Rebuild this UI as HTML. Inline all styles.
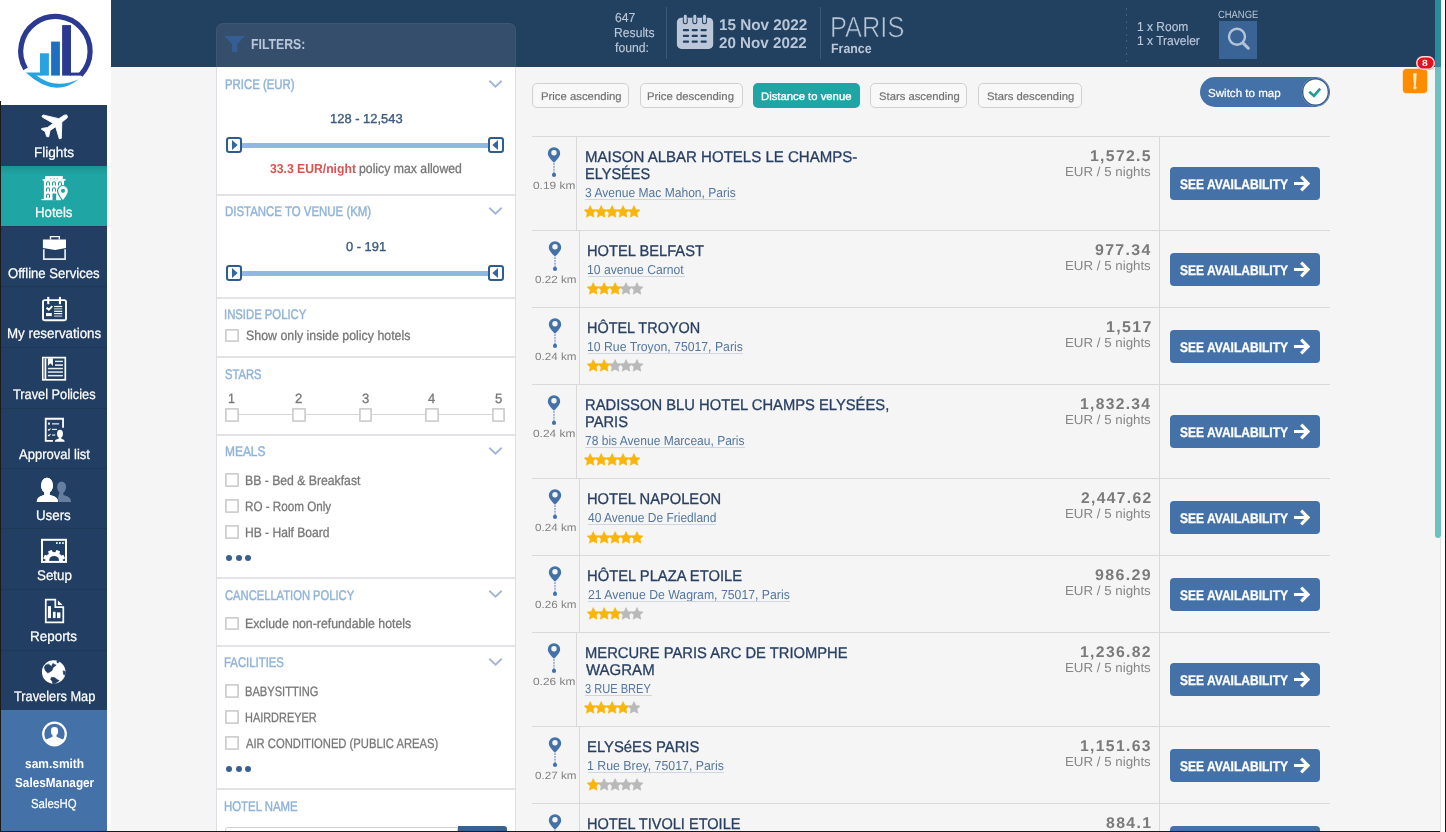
<!DOCTYPE html>
<html><head><meta charset="utf-8"><title>Hotels</title>
<style>
html,body{margin:0;padding:0;overflow:hidden;background:#f5f5f5;}
body{width:1446px;height:832px;}
#root{will-change:opacity;width:1446px;height:832px;overflow:hidden;position:relative;font-family:"Liberation Sans",sans-serif;}
.b{position:absolute;display:block;}
.t{position:absolute;white-space:nowrap;line-height:1;transform-origin:0 0;text-rendering:geometricPrecision;}
</style></head><body><div id="root">
<div class="b" style="left:111px;top:0px;width:1335px;height:67px;background:#22405f;"></div>
<div class="b" style="left:0px;top:0px;width:111px;height:105px;background:#ffffff;"></div>
<div class="b" style="left:107px;top:105px;width:4px;height:727px;background:#ffffff;"></div>
<div class="b" style="left:1px;top:105px;width:106px;height:605px;background:#223f63;"></div>
<div class="b" style="left:1px;top:710px;width:106px;height:121px;background:#4472a8;"></div>
<svg class="b" style="left:0px;top:0px;" width="111" height="105" viewBox="0 0 111 105">
<path d="M25.6 68.9 A34.7 34.7 0 1 1 80.6 75" fill="none" stroke="#2b3990" stroke-width="5.2"/>
<rect x="62.1" y="25.1" width="8.9" height="50.5" fill="#2b3990"/>
<rect x="70" y="72.6" width="11.8" height="3" fill="#2b3990"/>
<rect x="51.1" y="41.6" width="8.8" height="34" fill="#1f6fc0"/>
<rect x="40" y="53.3" width="8.9" height="22.3" fill="#27a3e2"/>
<path d="M25.8 72.6 H40.5 V75.6 H36.5 Q55 90 78.8 79.2 Q54 99 25.8 72.6Z" fill="#27a3e2"/>
</svg>
<div class="t" style="left:33.61px;top:145.00px;font-size:14px;color:#ffffff;transform:scaleX(0.9691);-webkit-text-stroke:0.25px #ffffff;">Flights</div>
<div class="b" style="left:1px;top:166px;width:106px;height:61px;background:#1fa5a3;background:linear-gradient(to bottom,#1b9392 0,#1fa5a3 9px);"></div>
<div class="t" style="left:35.14px;top:205.00px;font-size:14px;color:#ffffff;transform:scaleX(0.9443);-webkit-text-stroke:0.25px #ffffff;">Hotels</div>
<div class="b" style="left:1px;top:226px;width:106px;height:1px;background:#1e3858;"></div>
<div class="t" style="left:8.31px;top:266.00px;font-size:14px;color:#ffffff;transform:scaleX(0.9366);-webkit-text-stroke:0.25px #ffffff;">Offline Services</div>
<div class="b" style="left:1px;top:286px;width:106px;height:1px;background:#1e3858;"></div>
<div class="t" style="left:6.73px;top:326.00px;font-size:14px;color:#ffffff;transform:scaleX(0.9532);-webkit-text-stroke:0.25px #ffffff;">My reservations</div>
<div class="b" style="left:1px;top:347px;width:106px;height:1px;background:#1e3858;"></div>
<div class="t" style="left:13.07px;top:387.00px;font-size:14px;color:#ffffff;transform:scaleX(0.9125);-webkit-text-stroke:0.25px #ffffff;">Travel Policies</div>
<div class="b" style="left:1px;top:408px;width:106px;height:1px;background:#1e3858;"></div>
<div class="t" style="left:18.50px;top:447.00px;font-size:14px;color:#ffffff;transform:scaleX(0.9298);-webkit-text-stroke:0.25px #ffffff;">Approval list</div>
<div class="b" style="left:1px;top:468px;width:106px;height:1px;background:#1e3858;"></div>
<div class="t" style="left:36.45px;top:508.00px;font-size:14px;color:#ffffff;transform:scaleX(0.9514);-webkit-text-stroke:0.25px #ffffff;">Users</div>
<div class="b" style="left:1px;top:528px;width:106px;height:1px;background:#1e3858;"></div>
<div class="t" style="left:36.80px;top:568.00px;font-size:14px;color:#ffffff;transform:scaleX(0.9555);-webkit-text-stroke:0.25px #ffffff;">Setup</div>
<div class="b" style="left:1px;top:589px;width:106px;height:1px;background:#1e3858;"></div>
<div class="t" style="left:30.12px;top:629.00px;font-size:14px;color:#ffffff;transform:scaleX(0.9604);-webkit-text-stroke:0.25px #ffffff;">Reports</div>
<div class="b" style="left:1px;top:650px;width:106px;height:1px;background:#1e3858;"></div>
<div class="t" style="left:13.77px;top:689.00px;font-size:14px;color:#ffffff;transform:scaleX(0.9135);-webkit-text-stroke:0.25px #ffffff;">Travelers Map</div>
<div class="t" style="left:24.84px;top:757.00px;font-size:13px;color:#ffffff;transform:scaleX(0.9190);font-weight:bold;">sam.smith</div>
<div class="t" style="left:14.56px;top:776.00px;font-size:13px;color:#ffffff;transform:scaleX(0.9059);font-weight:bold;">SalesManager</div>
<div class="t" style="left:31.25px;top:797.00px;font-size:13px;color:#ffffff;transform:scaleX(0.8788);-webkit-text-stroke:0.2px #ffffff;">SalesHQ</div>
<svg class="b" style="left:34px;top:108px;" width="40" height="35" viewBox="0 0 40 35"><path d="M30.3 7.2L32.300 6.900Q33.800 7.200 33.300 9.700L27.800 14.200L27.300 30.300L25.300 30.800L21.700 18.700L16 22.500L14.700 28.800L12.700 28.600L11 23.400L7.500 21.300L7.700 20.500L13.500 19.500L19.300 15.400L8.300 9.100L8.100 7.900L9.200 7L24.800 10.700Z" fill="#fff" stroke="#fff" stroke-width="0.900" stroke-linejoin="round"/></svg>
<svg class="b" style="left:34px;top:170px;" width="40" height="35" viewBox="0 0 40 35"><g fill="#fff"><rect x="11.100" y="6.100" width="17.700" height="3.200"/><rect x="8.600" y="9" width="22.900" height="1.800"/>
<rect x="9.900" y="10.500" width="20.200" height="18.800"/><rect x="7.400" y="28.900" width="19.600" height="1.300"/></g>
<g fill="#27a09e"><rect x="16.300" y="8.300" width="1.100" height="0.900"/><rect x="19.600" y="8.300" width="1.100" height="0.900"/><rect x="22.600" y="8.300" width="1.100" height="0.900"/>
<rect x="18.500" y="23.500" width="3.700" height="6.800"/></g>
<path d="M12.5 15.5v-2.300a1.500 1.500 0 0 1 3 0v2.300" fill="none" stroke="#1f9c9a" stroke-width="1.050"/><path d="M18.5 15.5v-2.300a1.500 1.500 0 0 1 3 0v2.300" fill="none" stroke="#1f9c9a" stroke-width="1.050"/><path d="M24.5 15.5v-2.300a1.500 1.500 0 0 1 3 0v2.300" fill="none" stroke="#1f9c9a" stroke-width="1.050"/><path d="M12.5 21.6v-2.300a1.500 1.500 0 0 1 3 0v2.300" fill="none" stroke="#1f9c9a" stroke-width="1.050"/><path d="M18.5 21.6v-2.300a1.500 1.500 0 0 1 3 0v2.300" fill="none" stroke="#1f9c9a" stroke-width="1.050"/><path d="M12.5 27.8v-2.300a1.500 1.500 0 0 1 3 0v2.300" fill="none" stroke="#1f9c9a" stroke-width="1.050"/>
<path d="M29 14.900a6.100 6.100 0 0 1 6.100 6.100c0 4-6.100 10.600-6.100 10.600s-6.100-6.600-6.100-10.600a6.100 6.100 0 0 1 6.100-6.100z" fill="#1fa5a3"/>
<rect x="30.100" y="10.800" width="2" height="4.500" fill="#1fa5a3"/>
<path d="M29 16.100a4.800 4.800 0 0 1 4.800 4.800c0 3.200-4.800 9-4.800 9s-4.800-5.800-4.800-9a4.800 4.800 0 0 1 4.800-4.800z" fill="#fff"/>
<circle cx="29" cy="20.800" r="2.100" fill="#1fa5a3"/></svg>
<svg class="b" style="left:36px;top:232px;" width="36" height="32" viewBox="0 0 36 32"><path d="M14.500 7.500V4.600h8.800v2.900" fill="none" stroke="#fff" stroke-width="1.400"/>
<path d="M6.900 7.400h23.100v8.600l-10.800 2.100l-12.300-2.100z" fill="#fff"/>
<path d="M7.800 17.300v9.800h21.300v-9.800" fill="none" stroke="#e6ebf2" stroke-width="1.700"/></svg>
<svg class="b" style="left:36px;top:293px;" width="36" height="32" viewBox="0 0 36 32"><rect x="7" y="7.100" width="23" height="20.200" rx="1.800" fill="none" stroke="#fff" stroke-width="1.900"/>
<rect x="11.200" y="3.900" width="2.100" height="7.300" fill="#fff"/><rect x="22.900" y="3.900" width="2.100" height="7.300" fill="#fff"/>
<path d="M10.500 14.700l2.300 1.900 3.500-3.500" fill="none" stroke="#fff" stroke-width="1.900"/>
<rect x="10" y="20" width="5.800" height="3.100" fill="#fff"/>
<g fill="#fff"><rect x="18.100" y="12.900" width="8.100" height="1.200"/><rect x="18.100" y="15.200" width="8.100" height="1.200" opacity=".7"/><rect x="18.100" y="17.700" width="8.100" height="1.200"/>
<rect x="18.100" y="20" width="8.100" height="1.200"/><rect x="18.100" y="22.500" width="8.100" height="1.200" opacity=".7"/></g></svg>
<svg class="b" style="left:36px;top:352px;" width="36" height="32" viewBox="0 0 36 32"><rect x="6.800" y="5.600" width="22.500" height="22.200" fill="none" stroke="#fff" stroke-width="1.700"/>
<rect x="7.400" y="6.300" width="1.500" height="20.800" fill="#8a98ab"/><rect x="8.900" y="6.300" width="1.400" height="20.800" fill="#fff"/>
<path d="M11.900 6.300h5v7.600l-2.500-2.700-2.500 2.700z" fill="#fff"/>
<g fill="#e8edf3"><rect x="19" y="8.700" width="7.900" height="1.400"/><rect x="19" y="12.300" width="7.900" height="1.600"/>
<rect x="11.900" y="15.800" width="15" height="1.500"/><rect x="11.900" y="19.300" width="15" height="1.500"/><rect x="11.900" y="22.900" width="15" height="1.500"/></g></svg>
<svg class="b" style="left:36px;top:413px;" width="36" height="32" viewBox="0 0 36 32"><path d="M27.050 14.800V5.750H9.700v22.050h7.200" fill="none" stroke="#fff" stroke-width="1.800"/>
<rect x="12.100" y="9.600" width="1.800" height="2.100" fill="#fff"/>
<path d="M12 16.500l.900.800 1.600-1.800M12 22l.900.800 1.600-1.800" fill="none" stroke="#fff" stroke-width="1.100"/>
<g fill="#dfe7f1"><rect x="16" y="10.200" width="7.100" height="1.300"/><rect x="16" y="15.800" width="5" height="1.200"/><rect x="16.200" y="21.400" width="3" height="1.300"/></g>
<ellipse cx="24" cy="20.700" rx="2.950" ry="3.850" fill="#fff"/>
<path d="M22.700 23.500h2.600v2.300c2 .500 3.300 1.200 3.400 2.900h-9.900c.100-1.700 1.400-2.400 3.900-2.900z" fill="#fff"/></svg>
<svg class="b" style="left:32px;top:474px;" width="44" height="32" viewBox="0 0 44 32"><g fill="#667f9e"><ellipse cx="29.600" cy="13.100" rx="4.500" ry="5.700"/><path d="M27.800 17.500h3.600v3.600c4.500 1.200 7.300 2.300 7.700 6.800h-14.500z"/></g>
<g fill="#fff" stroke="#223f63" stroke-width="1.600" paint-order="stroke"><ellipse cx="15" cy="11.500" rx="6" ry="7.700"/><path d="M12.300 17.500h5.400v3.500c5 1.500 8 2.200 8.300 6.900h-21.200c.300-4.700 3-5.400 7.500-6.900z"/></g>
<g fill="#fff"><ellipse cx="15" cy="11.500" rx="6" ry="7.700"/><path d="M12.300 17.500h5.400v3.500c5 1.500 8 2.200 8.300 6.900h-21.200c.300-4.700 3-5.400 7.500-6.900z"/></g></svg>
<svg class="b" style="left:36px;top:534px;" width="36" height="32" viewBox="0 0 36 32"><defs><clipPath id="sc"><rect x="6" y="6" width="24" height="21.900"/></clipPath></defs>
<g clip-path="url(#sc)" fill="#fff"><circle cx="18.100" cy="26.900" r="8.900"/><rect x="16" y="15.800" width="4.200" height="5" rx="1" transform="rotate(-112.5 18.100 26.900)"/><rect x="16" y="15.800" width="4.200" height="5" rx="1" transform="rotate(-67.5 18.100 26.900)"/><rect x="16" y="15.800" width="4.200" height="5" rx="1" transform="rotate(-22.5 18.100 26.900)"/><rect x="16" y="15.800" width="4.200" height="5" rx="1" transform="rotate(22.5 18.100 26.900)"/><rect x="16" y="15.800" width="4.200" height="5" rx="1" transform="rotate(67.5 18.100 26.900)"/><rect x="16" y="15.800" width="4.200" height="5" rx="1" transform="rotate(112.5 18.100 26.900)"/></g>
<circle cx="18.100" cy="26.900" r="5" fill="#223f63"/>
<rect x="6" y="5.800" width="24" height="22.100" fill="none" stroke="#fff" stroke-width="2"/>
<g fill="#e6ecf4"><rect x="20" y="8.100" width="1.700" height="1.900"/><rect x="23" y="8.100" width="1.700" height="1.900"/><rect x="26.100" y="8.100" width="1.700" height="1.900"/></g></svg>
<svg class="b" style="left:36px;top:595px;" width="36" height="32" viewBox="0 0 36 32"><path d="M19.300 4.700H9.750v22.600h17.550V12.200h-8z" fill="none" stroke="#fff" stroke-width="1.700"/>
<path d="M21.900 5.600v4.500h4.700z" fill="#fff"/>
<rect x="11.900" y="11.100" width="3.100" height="12" fill="#fff"/><rect x="16.900" y="16.800" width="2.700" height="6.300" fill="#fff"/><rect x="21" y="17.400" width="3.400" height="5.700" fill="#fff"/></svg>
<svg class="b" style="left:36px;top:656px;" width="36" height="32" viewBox="0 0 36 32"><circle cx="17.700" cy="16" r="11.800" fill="#fff"/>
<g fill="#223f63" stroke="#223f63" stroke-width="0.600" stroke-linejoin="round"><path d="M12.69 8.27L15.38 10.38L16.92 7.50L20.19 9.23L17.31 11.15L15.96 14.62L11.92 17.12L9.42 14.81L8.27 11.15L9.81 8.85Z"/><path d="M15.38 21.35L18.46 21.54L21.54 23.85L23.27 24.62L20.00 27.12L16.92 27.88L16.15 25.00L14.62 23.46Z"/><path d="M27.12 14.81L29.23 15.38L29.23 18.85L27.50 18.46Z"/><circle cx="21.900" cy="5.800" r="1.100"/></g>
<path d="M9.500 8.500L16.500 5.200L12.500 8z" fill="#b8c4d4"/></svg>
<svg class="b" style="left:36px;top:717px;" width="36" height="32" viewBox="0 0 36 32"><defs><clipPath id="av"><circle cx="18.500" cy="17" r="11.200"/></clipPath></defs>
<circle cx="18.500" cy="17" r="11.300" fill="none" stroke="#fff" stroke-width="2.200"/>
<g clip-path="url(#av)" fill="#fff"><rect x="15" y="10.100" width="7" height="8.300" rx="3.300"/>
<path d="M16.500 17.500h4v2.300l7.500 3.200v7h-19v-7l7.500-3.200z"/></g></svg>
<div class="t" style="left:615.21px;top:11.00px;font-size:13px;color:#bac7d9;transform:scaleX(0.9366);-webkit-text-stroke:0.15px #bac7d9;">647</div>
<div class="t" style="left:614.06px;top:26.00px;font-size:13px;color:#bac7d9;transform:scaleX(0.9361);-webkit-text-stroke:0.15px #bac7d9;">Results</div>
<div class="t" style="left:614.88px;top:41.00px;font-size:13px;color:#bac7d9;transform:scaleX(0.9405);-webkit-text-stroke:0.15px #bac7d9;">found:</div>
<div class="b" style="left:666px;top:7px;width:1px;height:52px;background:#3d5877;"></div>
<svg class="b" style="left:670px;top:8px;" width="50" height="48" viewBox="0 0 50 48"><rect x="6.900" y="9.800" width="36.300" height="31.100" rx="4.500" fill="#bcc8d9"/>
<g fill="#22405f"><rect x="12.8" y="21" width="6.300" height="2.300" rx="1"/><rect x="21.6" y="21" width="6.300" height="2.300" rx="1"/><rect x="30.5" y="21" width="6.300" height="2.300" rx="1"/><rect x="12.8" y="26.8" width="6.300" height="2.300" rx="1"/><rect x="21.6" y="26.8" width="6.300" height="2.300" rx="1"/><rect x="30.5" y="26.8" width="6.300" height="2.300" rx="1"/><rect x="12.8" y="32.5" width="6.300" height="2.300" rx="1"/><rect x="21.6" y="32.5" width="6.300" height="2.300" rx="1"/><rect x="30.5" y="32.5" width="6.300" height="2.300" rx="1"/><rect x="12.8" y="9" width="5" height="7.300" rx="2.400"/><rect x="22.3" y="9" width="5" height="7.300" rx="2.400"/><rect x="32.0" y="9" width="5" height="7.300" rx="2.400"/></g><g fill="#bcc8d9"><rect x="13.850000000000001" y="6.800" width="2.900" height="8.500" rx="1.450"/><rect x="23.35" y="6.800" width="2.900" height="8.500" rx="1.450"/><rect x="33.05" y="6.800" width="2.900" height="8.500" rx="1.450"/></g></svg>
<div class="t" style="left:718.51px;top:18.00px;font-size:15.5px;color:#bac7d9;transform:scaleX(0.9852);font-weight:bold;">15 Nov 2022</div>
<div class="t" style="left:719.01px;top:36.00px;font-size:15.5px;color:#bac7d9;transform:scaleX(0.9797);font-weight:bold;">20 Nov 2022</div>
<div class="b" style="left:820px;top:7px;width:1px;height:52px;background:#3d5877;"></div>
<div class="t" style="left:829.82px;top:14.00px;font-size:29px;color:#b4c2d4;transform:scaleX(0.8764);-webkit-text-stroke:0.6px #b4c2d4;-webkit-text-stroke-color:#22405f;">PARIS</div>
<div class="t" style="left:830.70px;top:42.00px;font-size:13.5px;color:#bac7d9;transform:scaleX(0.9186);font-weight:bold;">France</div>
<div class="b" style="left:1126px;top:8px;width:1px;height:56px;background:repeating-linear-gradient(to bottom,#465f7f 0,#465f7f 2px,transparent 2px,transparent 6.500px);"></div>
<div class="t" style="left:1136.68px;top:20.00px;font-size:13px;color:#bac7d9;transform:scaleX(0.9228);-webkit-text-stroke:0.15px #bac7d9;">1 x Room</div>
<div class="t" style="left:1136.67px;top:34.00px;font-size:13px;color:#bac7d9;transform:scaleX(0.9258);-webkit-text-stroke:0.15px #bac7d9;">1 x Traveler</div>
<div class="t" style="left:1218.15px;top:10.00px;font-size:10.5px;color:#bac7d9;transform:scaleX(0.8955);">CHANGE</div>
<div class="b" style="left:1219px;top:21px;width:38px;height:38px;background:#3a6496;"></div>
<svg class="b" style="left:1219px;top:21px;" width="38" height="38" viewBox="0 0 38 38"><circle cx="18" cy="15.700" r="8" fill="none" stroke="#b4c4d8" stroke-width="2.400"/>
<path d="M23.900 21.900l5.400 5.300" stroke="#b4c4d8" stroke-width="3" stroke-linecap="round"/></svg>
<div class="b" style="left:1403px;top:69px;width:24px;height:24px;background:#ff8c00;border-radius:3.5px;box-shadow:0 0 0 0.7px #ffd9a0;"></div>
<svg class="b" style="left:1403px;top:69px;" width="24" height="24" viewBox="0 0 24 24"><path d="M10.1 4.300h3.600l-.800 12.500h-2z" fill="#ffedc8"/><circle cx="11.900" cy="18.800" r="1.700" fill="#ffedc8"/></svg>
<div class="b" style="left:1415.5px;top:55.5px;width:19px;height:14.5px;background:#e6101b;border-radius:7.200px;box-shadow:inset 0 0 0 1.500px #f7d9dc;"></div>
<div class="t" style="left:1422.11px;top:59.00px;font-size:9px;color:#ffffff;transform:scaleX(1.1556);font-weight:bold;">8</div>
<div class="b" style="left:216px;top:23px;width:300px;height:44px;background:#344e6c;border-radius:7px 7px 0 0;border:1px solid #3d5775;border-bottom:none;box-sizing:border-box;"></div>
<svg class="b" style="left:224px;top:35px;" width="22" height="18" viewBox="0 0 22 18"><path d="M0.300 1h20.700l-7.700 8.200v7.800h-5.200v-7.800z" fill="#355e95"/></svg>
<div class="t" style="left:250.75px;top:38.00px;font-size:14.5px;color:#bac7d9;transform:scaleX(0.8469);font-weight:bold;">FILTERS:</div>
<div class="b" style="left:216px;top:67px;width:300px;height:765px;background:#ffffff;border-left:1px solid #dcdfe3;border-right:1px solid #dcdfe3;box-sizing:border-box;"></div>
<div class="b" style="left:217px;top:194px;width:298px;height:2px;background:#e1e3e6;"></div>
<div class="b" style="left:217px;top:297px;width:298px;height:2px;background:#e1e3e6;"></div>
<div class="b" style="left:217px;top:355.5px;width:298px;height:2px;background:#e1e3e6;"></div>
<div class="b" style="left:217px;top:434px;width:298px;height:2px;background:#e1e3e6;"></div>
<div class="b" style="left:217px;top:577px;width:298px;height:2px;background:#e1e3e6;"></div>
<div class="b" style="left:217px;top:645px;width:298px;height:2px;background:#e1e3e6;"></div>
<div class="b" style="left:217px;top:788px;width:298px;height:2px;background:#e1e3e6;"></div>
<div class="t" style="left:224.59px;top:77.00px;font-size:14px;color:#8fb3d9;transform:scaleX(0.8120);-webkit-text-stroke:0.45px #8fb3d9;">PRICE (EUR)</div>
<svg class="b" style="left:487.6px;top:78.6px;" width="15" height="10" viewBox="0 0 15 10"><path d="M1.300 1.700l6.200 5.900 6.200-5.900" fill="none" stroke="#a0b7d6" stroke-width="1.900"/></svg>
<div class="t" style="left:329.61px;top:112.00px;font-size:13px;color:#3c5a80;transform:scaleX(0.9944);-webkit-text-stroke:0.35px #3c5a80;">128 - 12,543</div>
<div class="b" style="left:240px;top:143.25px;width:250px;height:4.6px;background:#93b8e0;"></div>
<div class="b" style="left:226px;top:137.05px;width:16px;height:15.8px;background:#ffffff;border:2px solid #2f5c90;border-radius:3.200px;box-sizing:border-box;"></div>
<svg class="b" style="left:226px;top:137.05px;" width="16" height="15.8" viewBox="0 0 16 15.800"><path d="M6 3v9.900l5.700-4.950z" fill="#3466a6"/></svg>
<div class="b" style="left:487.7px;top:137.05px;width:16px;height:15.8px;background:#ffffff;border:2px solid #2f5c90;border-radius:3.200px;box-sizing:border-box;"></div>
<svg class="b" style="left:487.7px;top:137.05px;" width="16" height="15.8" viewBox="0 0 16 15.800"><path d="M10 3v9.900l-5.700-4.950z" fill="#3466a6"/></svg>
<div class="t" style="left:270.07px;top:162.00px;font-size:13px;color:#d9534f;transform:scaleX(0.9368);font-weight:bold;">33.3 EUR/night</div>
<div class="t" style="left:359.31px;top:162.00px;font-size:13.5px;color:#777777;transform:scaleX(0.9085);-webkit-text-stroke:0.3px #777777;">policy max allowed</div>
<div class="t" style="left:224.98px;top:204.00px;font-size:14px;color:#8fb3d9;transform:scaleX(0.8169);-webkit-text-stroke:0.45px #8fb3d9;">DISTANCE TO VENUE (KM)</div>
<svg class="b" style="left:487.6px;top:205.9px;" width="15" height="10" viewBox="0 0 15 10"><path d="M1.300 1.700l6.200 5.900 6.200-5.900" fill="none" stroke="#a0b7d6" stroke-width="1.900"/></svg>
<div class="t" style="left:346.00px;top:240.00px;font-size:13px;color:#3c5a80;transform:scaleX(0.9905);-webkit-text-stroke:0.35px #3c5a80;">0 - 191</div>
<div class="b" style="left:240px;top:271.0px;width:250px;height:4.6px;background:#93b8e0;"></div>
<div class="b" style="left:226px;top:264.8px;width:16px;height:15.8px;background:#ffffff;border:2px solid #2f5c90;border-radius:3.200px;box-sizing:border-box;"></div>
<svg class="b" style="left:226px;top:264.8px;" width="16" height="15.8" viewBox="0 0 16 15.800"><path d="M6 3v9.900l5.700-4.950z" fill="#3466a6"/></svg>
<div class="b" style="left:487.7px;top:264.8px;width:16px;height:15.8px;background:#ffffff;border:2px solid #2f5c90;border-radius:3.200px;box-sizing:border-box;"></div>
<svg class="b" style="left:487.7px;top:264.8px;" width="16" height="15.8" viewBox="0 0 16 15.800"><path d="M10 3v9.900l-5.700-4.950z" fill="#3466a6"/></svg>
<div class="t" style="left:224.49px;top:307.00px;font-size:14px;color:#8fb3d9;transform:scaleX(0.8070);-webkit-text-stroke:0.45px #8fb3d9;">INSIDE POLICY</div>
<div class="b" style="left:225.2px;top:328.6px;width:13.7px;height:13.7px;background:#ffffff;box-shadow:inset 0 0 0 1.800px #cfcfcf;border-radius:1px;"></div>
<div class="t" style="left:245.73px;top:329.00px;font-size:13.5px;color:#777777;transform:scaleX(0.9167);-webkit-text-stroke:0.3px #777777;">Show only inside policy hotels</div>
<div class="t" style="left:225.00px;top:367.00px;font-size:14px;color:#8fb3d9;transform:scaleX(0.8000);-webkit-text-stroke:0.45px #8fb3d9;">STARS</div>
<div class="b" style="left:232px;top:414px;width:266px;height:1px;background:#d5d5d5;"></div>
<div class="b" style="left:225.2px;top:408.1px;width:13.7px;height:13.7px;background:#ffffff;box-shadow:inset 0 0 0 1.800px #cfcfcf;border-radius:1px;"></div>
<div class="t" style="left:228.28px;top:392.00px;font-size:13.5px;color:#777777;transform:scaleX(0.9191);-webkit-text-stroke:0.3px #777777;">1</div>
<div class="b" style="left:291.85px;top:408.1px;width:13.7px;height:13.7px;background:#ffffff;box-shadow:inset 0 0 0 1.800px #cfcfcf;border-radius:1px;"></div>
<div class="t" style="left:294.89px;top:392.00px;font-size:13.5px;color:#777777;transform:scaleX(0.9760);-webkit-text-stroke:0.3px #777777;">2</div>
<div class="b" style="left:358.5px;top:408.1px;width:13.7px;height:13.7px;background:#ffffff;box-shadow:inset 0 0 0 1.800px #cfcfcf;border-radius:1px;"></div>
<div class="t" style="left:361.57px;top:392.00px;font-size:13.5px;color:#777777;transform:scaleX(0.9692);-webkit-text-stroke:0.3px #777777;">3</div>
<div class="b" style="left:425.15px;top:408.1px;width:13.7px;height:13.7px;background:#ffffff;box-shadow:inset 0 0 0 1.800px #cfcfcf;border-radius:1px;"></div>
<div class="t" style="left:428.31px;top:392.00px;font-size:13.5px;color:#777777;transform:scaleX(0.9600);-webkit-text-stroke:0.3px #777777;">4</div>
<div class="b" style="left:491.8px;top:408.1px;width:13.7px;height:13.7px;background:#ffffff;box-shadow:inset 0 0 0 1.800px #cfcfcf;border-radius:1px;"></div>
<div class="t" style="left:494.87px;top:392.00px;font-size:13.5px;color:#777777;transform:scaleX(0.9692);-webkit-text-stroke:0.3px #777777;">5</div>
<div class="t" style="left:224.54px;top:444.00px;font-size:14px;color:#8fb3d9;transform:scaleX(0.8525);-webkit-text-stroke:0.45px #8fb3d9;">MEALS</div>
<svg class="b" style="left:487.6px;top:446.1px;" width="15" height="10" viewBox="0 0 15 10"><path d="M1.300 1.700l6.200 5.900 6.200-5.900" fill="none" stroke="#a0b7d6" stroke-width="1.900"/></svg>
<div class="b" style="left:225.2px;top:473.3px;width:13.7px;height:13.7px;background:#ffffff;box-shadow:inset 0 0 0 1.800px #cfcfcf;border-radius:1px;"></div>
<div class="t" style="left:245.28px;top:474.00px;font-size:13.5px;color:#777777;transform:scaleX(0.9046);-webkit-text-stroke:0.3px #777777;">BB - Bed &amp; Breakfast</div>
<div class="b" style="left:225.2px;top:499.3px;width:13.7px;height:13.7px;background:#ffffff;box-shadow:inset 0 0 0 1.800px #cfcfcf;border-radius:1px;"></div>
<div class="t" style="left:245.33px;top:500.00px;font-size:13.5px;color:#777777;transform:scaleX(0.8639);-webkit-text-stroke:0.3px #777777;">RO - Room Only</div>
<div class="b" style="left:225.2px;top:525.3000000000001px;width:13.7px;height:13.7px;background:#ffffff;box-shadow:inset 0 0 0 1.800px #cfcfcf;border-radius:1px;"></div>
<div class="t" style="left:245.29px;top:526.00px;font-size:13.5px;color:#777777;transform:scaleX(0.8941);-webkit-text-stroke:0.3px #777777;">HB - Half Board</div>
<div class="b" style="left:226px;top:554.7px;width:6px;height:6px;background:#3a6090;border-radius:3px;"></div>
<div class="b" style="left:235.5px;top:554.7px;width:6px;height:6px;background:#3a6090;border-radius:3px;"></div>
<div class="b" style="left:245px;top:554.7px;width:6px;height:6px;background:#3a6090;border-radius:3px;"></div>
<div class="t" style="left:224.90px;top:588.00px;font-size:14px;color:#8fb3d9;transform:scaleX(0.7994);-webkit-text-stroke:0.45px #8fb3d9;">CANCELLATION POLICY</div>
<svg class="b" style="left:487.6px;top:589.4px;" width="15" height="10" viewBox="0 0 15 10"><path d="M1.300 1.700l6.200 5.900 6.200-5.900" fill="none" stroke="#a0b7d6" stroke-width="1.900"/></svg>
<div class="b" style="left:225.2px;top:616.6px;width:13.7px;height:13.7px;background:#ffffff;box-shadow:inset 0 0 0 1.800px #cfcfcf;border-radius:1px;"></div>
<div class="t" style="left:245.27px;top:617.00px;font-size:13.5px;color:#777777;transform:scaleX(0.9112);-webkit-text-stroke:0.3px #777777;">Exclude non-refundable hotels</div>
<div class="t" style="left:224.49px;top:655.00px;font-size:14px;color:#8fb3d9;transform:scaleX(0.8111);-webkit-text-stroke:0.45px #8fb3d9;">FACILITIES</div>
<svg class="b" style="left:487.6px;top:656.7px;" width="15" height="10" viewBox="0 0 15 10"><path d="M1.300 1.700l6.200 5.900 6.200-5.900" fill="none" stroke="#a0b7d6" stroke-width="1.900"/></svg>
<div class="b" style="left:225.2px;top:684.3000000000001px;width:13.7px;height:13.7px;background:#ffffff;box-shadow:inset 0 0 0 1.800px #cfcfcf;border-radius:1px;"></div>
<div class="t" style="left:245.37px;top:685.00px;font-size:13.5px;color:#777777;transform:scaleX(0.8230);-webkit-text-stroke:0.3px #777777;">BABYSITTING</div>
<div class="b" style="left:225.2px;top:710.3000000000001px;width:13.7px;height:13.7px;background:#ffffff;box-shadow:inset 0 0 0 1.800px #cfcfcf;border-radius:1px;"></div>
<div class="t" style="left:245.39px;top:711.00px;font-size:13.5px;color:#777777;transform:scaleX(0.8092);-webkit-text-stroke:0.3px #777777;">HAIRDREYER</div>
<div class="b" style="left:225.2px;top:736.3000000000001px;width:13.7px;height:13.7px;background:#ffffff;box-shadow:inset 0 0 0 1.800px #cfcfcf;border-radius:1px;"></div>
<div class="t" style="left:246.30px;top:737.00px;font-size:13.5px;color:#777777;transform:scaleX(0.8321);-webkit-text-stroke:0.3px #777777;">AIR CONDITIONED (PUBLIC AREAS)</div>
<div class="b" style="left:226px;top:765.6px;width:6px;height:6px;background:#3a6090;border-radius:3px;"></div>
<div class="b" style="left:235.5px;top:765.6px;width:6px;height:6px;background:#3a6090;border-radius:3px;"></div>
<div class="b" style="left:245px;top:765.6px;width:6px;height:6px;background:#3a6090;border-radius:3px;"></div>
<div class="t" style="left:224.48px;top:799.00px;font-size:14px;color:#8fb3d9;transform:scaleX(0.8135);-webkit-text-stroke:0.45px #8fb3d9;">HOTEL NAME</div>
<div class="b" style="left:225px;top:827px;width:233px;height:6px;background:#ffffff;border:1px solid #cfcfcf;box-sizing:border-box;border-radius:3px 0 0 0;"></div>
<div class="b" style="left:458px;top:826px;width:49px;height:6px;background:#3a6090;border-radius:0 3px 0 0;"></div>
<div class="b" style="left:532px;top:83px;width:97px;height:25px;background:#f8f8f8;border-radius:5px;border:1px solid #d0d0d0;box-sizing:border-box;"></div>
<div class="t" style="left:540.50px;top:92.00px;font-size:11px;color:#747474;transform:scaleX(1.0297);-webkit-text-stroke:0.2px #747474;">Price ascending</div>
<div class="b" style="left:640px;top:83px;width:103px;height:25px;background:#f8f8f8;border-radius:5px;border:1px solid #d0d0d0;box-sizing:border-box;"></div>
<div class="t" style="left:647.40px;top:92.00px;font-size:11px;color:#747474;transform:scaleX(1.0308);-webkit-text-stroke:0.2px #747474;">Price descending</div>
<div class="b" style="left:753px;top:83px;width:107px;height:25px;background:#1fa5a3;border-radius:5px;"></div>
<div class="t" style="left:761.10px;top:92.00px;font-size:11px;color:#ffffff;transform:scaleX(1.0274);-webkit-text-stroke:0.35px #ffffff;">Distance to venue</div>
<div class="b" style="left:870px;top:83px;width:97px;height:25px;background:#f8f8f8;border-radius:5px;border:1px solid #d0d0d0;box-sizing:border-box;"></div>
<div class="t" style="left:879.29px;top:92.00px;font-size:11px;color:#747474;transform:scaleX(1.0229);-webkit-text-stroke:0.2px #747474;">Stars ascending</div>
<div class="b" style="left:978px;top:83px;width:104px;height:25px;background:#f8f8f8;border-radius:5px;border:1px solid #d0d0d0;box-sizing:border-box;"></div>
<div class="t" style="left:987.29px;top:92.00px;font-size:11px;color:#747474;transform:scaleX(1.0257);-webkit-text-stroke:0.2px #747474;">Stars descending</div>
<div class="b" style="left:1200px;top:77px;width:130px;height:30px;background:#4472a8;border-radius:15px;"></div>
<div class="t" style="left:1207.70px;top:89.00px;font-size:11.5px;color:#ffffff;transform:scaleX(1.0060);-webkit-text-stroke:0.2px #ffffff;">Switch to map</div>
<div class="b" style="left:1301.5px;top:78.3px;width:27.4px;height:27.4px;background:#ffffff;border-radius:14px;box-shadow:inset 0 0 0 1.400px #385a8a;"></div>
<svg class="b" style="left:1302px;top:79px;" width="26" height="26" viewBox="0 0 26 26"><path d="M7.300 12.800l4.700 4.100 6.200-7.200" fill="none" stroke="#1f9e95" stroke-width="2.600"/></svg>
<div class="b" style="left:532px;top:136px;width:798px;height:1px;background:#d9d9d9;"></div>
<div class="b" style="left:576px;top:136px;width:1px;height:94px;background:#d9d9d9;"></div>
<div class="b" style="left:1159px;top:136px;width:1px;height:94px;background:#d9d9d9;"></div>
<svg class="b" style="left:547.0px;top:146.7px;" width="14" height="31" viewBox="0 0 14 31"><path d="M7 0.200a6.200 6.200 0 0 1 6.200 6.200c0 3.800-6.200 9.200-6.200 9.200s-6.200-5.400-6.200-9.200a6.200 6.200 0 0 1 6.200-6.200z" fill="#4472a8"/>
<circle cx="7" cy="5.700" r="2.700" fill="#f5f5f5"/>
<path d="M7 16.300v9.700" stroke="#7f9cc4" stroke-width="1.400" stroke-dasharray="1.700 1"/>
<circle cx="7" cy="27.900" r="2.100" fill="#4472a8"/></svg>
<div class="t" style="left:533.18px;top:181.00px;font-size:10.5px;color:#808080;transform:scaleX(1.1326);">0.19 km</div>
<div class="t" style="left:584.69px;top:150.00px;font-size:15.5px;color:#283f62;transform:scaleX(0.9696);-webkit-text-stroke:0.3px #283f62;">MAISON ALBAR HOTELS LE CHAMPS-</div>
<div class="t" style="left:584.73px;top:167.00px;font-size:15.5px;color:#283f62;transform:scaleX(0.9378);-webkit-text-stroke:0.3px #283f62;">ELYSÉES</div>
<div class="t" style="left:585.44px;top:186.00px;font-size:13px;color:#54769f;transform:scaleX(0.9289);">3 Avenue Mac Mahon, Paris</div>
<div class="b" style="left:585.4px;top:199px;width:150.89999999999998px;height:1px;background:#cfd6e0;"></div>
<svg class="b" style="left:584.4px;top:205.20000000000002px;" width="58" height="13.5" viewBox="0 -0.3 58 13.5"><path transform="translate(0.00 0)" d="M6.2 0.3l1.85 3.9 4.25.55-3.1 2.95.8 4.25-3.8-2.1-3.8 2.1.8-4.25-3.1-2.95 4.25-.55z" fill="#f9b50b" stroke="#f9b50b" stroke-width="0.6" stroke-linejoin="round"/><path transform="translate(10.95 0)" d="M6.2 0.3l1.85 3.9 4.25.55-3.1 2.95.8 4.25-3.8-2.1-3.8 2.1.8-4.25-3.1-2.95 4.25-.55z" fill="#f9b50b" stroke="#f9b50b" stroke-width="0.6" stroke-linejoin="round"/><path transform="translate(21.90 0)" d="M6.2 0.3l1.85 3.9 4.25.55-3.1 2.95.8 4.25-3.8-2.1-3.8 2.1.8-4.25-3.1-2.95 4.25-.55z" fill="#f9b50b" stroke="#f9b50b" stroke-width="0.6" stroke-linejoin="round"/><path transform="translate(32.85 0)" d="M6.2 0.3l1.85 3.9 4.25.55-3.1 2.95.8 4.25-3.8-2.1-3.8 2.1.8-4.25-3.1-2.95 4.25-.55z" fill="#f9b50b" stroke="#f9b50b" stroke-width="0.6" stroke-linejoin="round"/><path transform="translate(43.80 0)" d="M6.2 0.3l1.85 3.9 4.25.55-3.1 2.95.8 4.25-3.8-2.1-3.8 2.1.8-4.25-3.1-2.95 4.25-.55z" fill="#f9b50b" stroke="#f9b50b" stroke-width="0.6" stroke-linejoin="round"/></svg>
<div class="t" style="left:1090.08px;top:149.00px;font-size:15.5px;color:#7a7a7a;transform:scaleX(1.0176);font-weight:bold;letter-spacing:1.3px;">1,572.5</div>
<div class="t" style="left:1064.98px;top:165.00px;font-size:13px;color:#868686;transform:scaleX(1.0234);">EUR / 5 nights</div>
<div class="b" style="left:1170px;top:167px;width:150px;height:33px;background:#4472a8;border-radius:4px;"></div>
<div class="t" style="left:1180.48px;top:177.00px;font-size:14px;color:#ffffff;transform:scaleX(0.8591);font-weight:bold;-webkit-text-stroke:0.3px #ffffff;">SEE AVAILABILITY</div>
<svg class="b" style="left:1293px;top:175px;" width="17" height="17" viewBox="0 0 17 17"><path d="M1 8.500h13M8.200 1.700l6.800 6.800-6.800 6.800" fill="none" stroke="#fff" stroke-width="3.200"/></svg>
<div class="b" style="left:532px;top:230px;width:798px;height:1px;background:#d9d9d9;"></div>
<div class="b" style="left:579px;top:230px;width:1px;height:77px;background:#d9d9d9;"></div>
<div class="b" style="left:1159px;top:230px;width:1px;height:77px;background:#d9d9d9;"></div>
<svg class="b" style="left:548.1px;top:240.6px;" width="14" height="31" viewBox="0 0 14 31"><path d="M7 0.200a6.200 6.200 0 0 1 6.200 6.200c0 3.800-6.200 9.200-6.200 9.200s-6.200-5.400-6.200-9.200a6.200 6.200 0 0 1 6.200-6.200z" fill="#4472a8"/>
<circle cx="7" cy="5.700" r="2.700" fill="#f5f5f5"/>
<path d="M7 16.300v9.700" stroke="#7f9cc4" stroke-width="1.400" stroke-dasharray="1.700 1"/>
<circle cx="7" cy="27.900" r="2.100" fill="#4472a8"/></svg>
<div class="t" style="left:534.98px;top:275.00px;font-size:10.5px;color:#808080;transform:scaleX(1.1107);">0.22 km</div>
<div class="t" style="left:587.22px;top:244.00px;font-size:15.5px;color:#283f62;transform:scaleX(0.9469);-webkit-text-stroke:0.3px #283f62;">HOTEL BELFAST</div>
<div class="t" style="left:587.46px;top:263.00px;font-size:13px;color:#54769f;transform:scaleX(0.9359);">10 avenue Carnot</div>
<div class="b" style="left:587.9px;top:276px;width:96.70000000000005px;height:1px;background:#cfd6e0;"></div>
<svg class="b" style="left:587.0px;top:282.40000000000003px;" width="58" height="13.5" viewBox="0 -0.3 58 13.5"><path transform="translate(0.00 0)" d="M6.2 0.3l1.85 3.9 4.25.55-3.1 2.95.8 4.25-3.8-2.1-3.8 2.1.8-4.25-3.1-2.95 4.25-.55z" fill="#f9b50b" stroke="#f9b50b" stroke-width="0.6" stroke-linejoin="round"/><path transform="translate(10.95 0)" d="M6.2 0.3l1.85 3.9 4.25.55-3.1 2.95.8 4.25-3.8-2.1-3.8 2.1.8-4.25-3.1-2.95 4.25-.55z" fill="#f9b50b" stroke="#f9b50b" stroke-width="0.6" stroke-linejoin="round"/><path transform="translate(21.90 0)" d="M6.2 0.3l1.85 3.9 4.25.55-3.1 2.95.8 4.25-3.8-2.1-3.8 2.1.8-4.25-3.1-2.95 4.25-.55z" fill="#f9b50b" stroke="#f9b50b" stroke-width="0.6" stroke-linejoin="round"/><path transform="translate(32.85 0)" d="M6.2 0.3l1.85 3.9 4.25.55-3.1 2.95.8 4.25-3.8-2.1-3.8 2.1.8-4.25-3.1-2.95 4.25-.55z" fill="#b9b9b9" stroke="#b9b9b9" stroke-width="0.6" stroke-linejoin="round"/><path transform="translate(43.80 0)" d="M6.2 0.3l1.85 3.9 4.25.55-3.1 2.95.8 4.25-3.8-2.1-3.8 2.1.8-4.25-3.1-2.95 4.25-.55z" fill="#b9b9b9" stroke="#b9b9b9" stroke-width="0.6" stroke-linejoin="round"/></svg>
<div class="t" style="left:1094.99px;top:243.00px;font-size:15.5px;color:#7a7a7a;transform:scaleX(1.0267);font-weight:bold;letter-spacing:1.3px;">977.34</div>
<div class="t" style="left:1064.98px;top:259.00px;font-size:13px;color:#868686;transform:scaleX(1.0234);">EUR / 5 nights</div>
<div class="b" style="left:1170px;top:253px;width:150px;height:33px;background:#4472a8;border-radius:4px;"></div>
<div class="t" style="left:1180.48px;top:263.00px;font-size:14px;color:#ffffff;transform:scaleX(0.8591);font-weight:bold;-webkit-text-stroke:0.3px #ffffff;">SEE AVAILABILITY</div>
<svg class="b" style="left:1293px;top:261px;" width="17" height="17" viewBox="0 0 17 17"><path d="M1 8.500h13M8.200 1.700l6.800 6.800-6.800 6.800" fill="none" stroke="#fff" stroke-width="3.200"/></svg>
<div class="b" style="left:532px;top:307px;width:798px;height:1px;background:#d9d9d9;"></div>
<div class="b" style="left:579px;top:307px;width:1px;height:77px;background:#d9d9d9;"></div>
<div class="b" style="left:1159px;top:307px;width:1px;height:77px;background:#d9d9d9;"></div>
<svg class="b" style="left:548.1px;top:317.59999999999997px;" width="14" height="31" viewBox="0 0 14 31"><path d="M7 0.200a6.200 6.200 0 0 1 6.200 6.200c0 3.800-6.200 9.200-6.200 9.200s-6.200-5.400-6.200-9.200a6.200 6.200 0 0 1 6.200-6.200z" fill="#4472a8"/>
<circle cx="7" cy="5.700" r="2.700" fill="#f5f5f5"/>
<path d="M7 16.300v9.700" stroke="#7f9cc4" stroke-width="1.400" stroke-dasharray="1.700 1"/>
<circle cx="7" cy="27.900" r="2.100" fill="#4472a8"/></svg>
<div class="t" style="left:534.98px;top:352.00px;font-size:10.5px;color:#808080;transform:scaleX(1.1107);">0.24 km</div>
<div class="t" style="left:587.24px;top:321.00px;font-size:15.5px;color:#283f62;transform:scaleX(0.9319);-webkit-text-stroke:0.3px #283f62;">HÔTEL TROYON</div>
<div class="t" style="left:587.46px;top:340.00px;font-size:13px;color:#54769f;transform:scaleX(0.9415);">10 Rue Troyon, 75017, Paris</div>
<div class="b" style="left:587.9px;top:353px;width:155.39999999999998px;height:1px;background:#cfd6e0;"></div>
<svg class="b" style="left:587.0px;top:359.4px;" width="58" height="13.5" viewBox="0 -0.3 58 13.5"><path transform="translate(0.00 0)" d="M6.2 0.3l1.85 3.9 4.25.55-3.1 2.95.8 4.25-3.8-2.1-3.8 2.1.8-4.25-3.1-2.95 4.25-.55z" fill="#f9b50b" stroke="#f9b50b" stroke-width="0.6" stroke-linejoin="round"/><path transform="translate(10.95 0)" d="M6.2 0.3l1.85 3.9 4.25.55-3.1 2.95.8 4.25-3.8-2.1-3.8 2.1.8-4.25-3.1-2.95 4.25-.55z" fill="#f9b50b" stroke="#f9b50b" stroke-width="0.6" stroke-linejoin="round"/><path transform="translate(21.90 0)" d="M6.2 0.3l1.85 3.9 4.25.55-3.1 2.95.8 4.25-3.8-2.1-3.8 2.1.8-4.25-3.1-2.95 4.25-.55z" fill="#b9b9b9" stroke="#b9b9b9" stroke-width="0.6" stroke-linejoin="round"/><path transform="translate(32.85 0)" d="M6.2 0.3l1.85 3.9 4.25.55-3.1 2.95.8 4.25-3.8-2.1-3.8 2.1.8-4.25-3.1-2.95 4.25-.55z" fill="#b9b9b9" stroke="#b9b9b9" stroke-width="0.6" stroke-linejoin="round"/><path transform="translate(43.80 0)" d="M6.2 0.3l1.85 3.9 4.25.55-3.1 2.95.8 4.25-3.8-2.1-3.8 2.1.8-4.25-3.1-2.95 4.25-.55z" fill="#b9b9b9" stroke="#b9b9b9" stroke-width="0.6" stroke-linejoin="round"/></svg>
<div class="t" style="left:1105.67px;top:320.00px;font-size:15.5px;color:#7a7a7a;transform:scaleX(1.0301);font-weight:bold;letter-spacing:1.3px;">1,517</div>
<div class="t" style="left:1064.98px;top:336.00px;font-size:13px;color:#868686;transform:scaleX(1.0234);">EUR / 5 nights</div>
<div class="b" style="left:1170px;top:330px;width:150px;height:33px;background:#4472a8;border-radius:4px;"></div>
<div class="t" style="left:1180.48px;top:340.00px;font-size:14px;color:#ffffff;transform:scaleX(0.8591);font-weight:bold;-webkit-text-stroke:0.3px #ffffff;">SEE AVAILABILITY</div>
<svg class="b" style="left:1293px;top:338px;" width="17" height="17" viewBox="0 0 17 17"><path d="M1 8.500h13M8.200 1.700l6.800 6.800-6.800 6.800" fill="none" stroke="#fff" stroke-width="3.200"/></svg>
<div class="b" style="left:532px;top:384px;width:798px;height:1px;background:#d9d9d9;"></div>
<div class="b" style="left:576px;top:384px;width:1px;height:94px;background:#d9d9d9;"></div>
<div class="b" style="left:1159px;top:384px;width:1px;height:94px;background:#d9d9d9;"></div>
<svg class="b" style="left:547.0px;top:394.5px;" width="14" height="31" viewBox="0 0 14 31"><path d="M7 0.200a6.200 6.200 0 0 1 6.200 6.200c0 3.800-6.200 9.200-6.200 9.200s-6.200-5.400-6.200-9.200a6.200 6.200 0 0 1 6.200-6.200z" fill="#4472a8"/>
<circle cx="7" cy="5.700" r="2.700" fill="#f5f5f5"/>
<path d="M7 16.300v9.700" stroke="#7f9cc4" stroke-width="1.400" stroke-dasharray="1.700 1"/>
<circle cx="7" cy="27.900" r="2.100" fill="#4472a8"/></svg>
<div class="t" style="left:533.18px;top:429.00px;font-size:10.5px;color:#808080;transform:scaleX(1.1326);">0.24 km</div>
<div class="t" style="left:584.71px;top:398.00px;font-size:15.5px;color:#283f62;transform:scaleX(0.9521);-webkit-text-stroke:0.3px #283f62;">RADISSON BLU HOTEL CHAMPS ELYSÉES,</div>
<div class="t" style="left:584.72px;top:415.00px;font-size:15.5px;color:#283f62;transform:scaleX(0.9476);-webkit-text-stroke:0.3px #283f62;">PARIS</div>
<div class="t" style="left:585.32px;top:434.00px;font-size:13px;color:#54769f;transform:scaleX(0.9249);">78 bis Avenue Marceau, Paris</div>
<div class="b" style="left:585.4px;top:447px;width:159.5px;height:1px;background:#cfd6e0;"></div>
<svg class="b" style="left:584.4px;top:453.0px;" width="58" height="13.5" viewBox="0 -0.3 58 13.5"><path transform="translate(0.00 0)" d="M6.2 0.3l1.85 3.9 4.25.55-3.1 2.95.8 4.25-3.8-2.1-3.8 2.1.8-4.25-3.1-2.95 4.25-.55z" fill="#f9b50b" stroke="#f9b50b" stroke-width="0.6" stroke-linejoin="round"/><path transform="translate(10.95 0)" d="M6.2 0.3l1.85 3.9 4.25.55-3.1 2.95.8 4.25-3.8-2.1-3.8 2.1.8-4.25-3.1-2.95 4.25-.55z" fill="#f9b50b" stroke="#f9b50b" stroke-width="0.6" stroke-linejoin="round"/><path transform="translate(21.90 0)" d="M6.2 0.3l1.85 3.9 4.25.55-3.1 2.95.8 4.25-3.8-2.1-3.8 2.1.8-4.25-3.1-2.95 4.25-.55z" fill="#f9b50b" stroke="#f9b50b" stroke-width="0.6" stroke-linejoin="round"/><path transform="translate(32.85 0)" d="M6.2 0.3l1.85 3.9 4.25.55-3.1 2.95.8 4.25-3.8-2.1-3.8 2.1.8-4.25-3.1-2.95 4.25-.55z" fill="#f9b50b" stroke="#f9b50b" stroke-width="0.6" stroke-linejoin="round"/><path transform="translate(43.80 0)" d="M6.2 0.3l1.85 3.9 4.25.55-3.1 2.95.8 4.25-3.8-2.1-3.8 2.1.8-4.25-3.1-2.95 4.25-.55z" fill="#f9b50b" stroke="#f9b50b" stroke-width="0.6" stroke-linejoin="round"/></svg>
<div class="t" style="left:1080.29px;top:397.00px;font-size:15.5px;color:#7a7a7a;transform:scaleX(1.0077);font-weight:bold;letter-spacing:1.3px;">1,832.34</div>
<div class="t" style="left:1064.98px;top:413.00px;font-size:13px;color:#868686;transform:scaleX(1.0234);">EUR / 5 nights</div>
<div class="b" style="left:1170px;top:415px;width:150px;height:33px;background:#4472a8;border-radius:4px;"></div>
<div class="t" style="left:1180.48px;top:425.00px;font-size:14px;color:#ffffff;transform:scaleX(0.8591);font-weight:bold;-webkit-text-stroke:0.3px #ffffff;">SEE AVAILABILITY</div>
<svg class="b" style="left:1293px;top:423px;" width="17" height="17" viewBox="0 0 17 17"><path d="M1 8.500h13M8.200 1.700l6.800 6.800-6.800 6.800" fill="none" stroke="#fff" stroke-width="3.200"/></svg>
<div class="b" style="left:532px;top:478px;width:798px;height:1px;background:#d9d9d9;"></div>
<div class="b" style="left:579px;top:478px;width:1px;height:77px;background:#d9d9d9;"></div>
<div class="b" style="left:1159px;top:478px;width:1px;height:77px;background:#d9d9d9;"></div>
<svg class="b" style="left:548.1px;top:488.8px;" width="14" height="31" viewBox="0 0 14 31"><path d="M7 0.200a6.200 6.200 0 0 1 6.200 6.200c0 3.800-6.200 9.200-6.200 9.200s-6.200-5.400-6.200-9.200a6.200 6.200 0 0 1 6.200-6.200z" fill="#4472a8"/>
<circle cx="7" cy="5.700" r="2.700" fill="#f5f5f5"/>
<path d="M7 16.300v9.700" stroke="#7f9cc4" stroke-width="1.400" stroke-dasharray="1.700 1"/>
<circle cx="7" cy="27.900" r="2.100" fill="#4472a8"/></svg>
<div class="t" style="left:534.98px;top:523.00px;font-size:10.5px;color:#808080;transform:scaleX(1.1107);">0.24 km</div>
<div class="t" style="left:587.21px;top:492.00px;font-size:15.5px;color:#283f62;transform:scaleX(0.9481);-webkit-text-stroke:0.3px #283f62;">HOTEL NAPOLEON</div>
<div class="t" style="left:588.17px;top:511.00px;font-size:13px;color:#54769f;transform:scaleX(0.9224);">40 Avenue De Friedland</div>
<div class="b" style="left:587.9px;top:524px;width:128.39999999999998px;height:1px;background:#cfd6e0;"></div>
<svg class="b" style="left:587.0px;top:530.6px;" width="58" height="13.5" viewBox="0 -0.3 58 13.5"><path transform="translate(0.00 0)" d="M6.2 0.3l1.85 3.9 4.25.55-3.1 2.95.8 4.25-3.8-2.1-3.8 2.1.8-4.25-3.1-2.95 4.25-.55z" fill="#f9b50b" stroke="#f9b50b" stroke-width="0.6" stroke-linejoin="round"/><path transform="translate(10.95 0)" d="M6.2 0.3l1.85 3.9 4.25.55-3.1 2.95.8 4.25-3.8-2.1-3.8 2.1.8-4.25-3.1-2.95 4.25-.55z" fill="#f9b50b" stroke="#f9b50b" stroke-width="0.6" stroke-linejoin="round"/><path transform="translate(21.90 0)" d="M6.2 0.3l1.85 3.9 4.25.55-3.1 2.95.8 4.25-3.8-2.1-3.8 2.1.8-4.25-3.1-2.95 4.25-.55z" fill="#f9b50b" stroke="#f9b50b" stroke-width="0.6" stroke-linejoin="round"/><path transform="translate(32.85 0)" d="M6.2 0.3l1.85 3.9 4.25.55-3.1 2.95.8 4.25-3.8-2.1-3.8 2.1.8-4.25-3.1-2.95 4.25-.55z" fill="#f9b50b" stroke="#f9b50b" stroke-width="0.6" stroke-linejoin="round"/><path transform="translate(43.80 0)" d="M6.2 0.3l1.85 3.9 4.25.55-3.1 2.95.8 4.25-3.8-2.1-3.8 2.1.8-4.25-3.1-2.95 4.25-.55z" fill="#f9b50b" stroke="#f9b50b" stroke-width="0.6" stroke-linejoin="round"/></svg>
<div class="t" style="left:1080.80px;top:491.00px;font-size:15.5px;color:#7a7a7a;transform:scaleX(1.0095);font-weight:bold;letter-spacing:1.3px;">2,447.62</div>
<div class="t" style="left:1064.98px;top:507.00px;font-size:13px;color:#868686;transform:scaleX(1.0234);">EUR / 5 nights</div>
<div class="b" style="left:1170px;top:501px;width:150px;height:33px;background:#4472a8;border-radius:4px;"></div>
<div class="t" style="left:1180.48px;top:511.00px;font-size:14px;color:#ffffff;transform:scaleX(0.8591);font-weight:bold;-webkit-text-stroke:0.3px #ffffff;">SEE AVAILABILITY</div>
<svg class="b" style="left:1293px;top:509px;" width="17" height="17" viewBox="0 0 17 17"><path d="M1 8.500h13M8.200 1.700l6.800 6.800-6.800 6.800" fill="none" stroke="#fff" stroke-width="3.200"/></svg>
<div class="b" style="left:532px;top:555px;width:798px;height:1px;background:#d9d9d9;"></div>
<div class="b" style="left:579px;top:555px;width:1px;height:77px;background:#d9d9d9;"></div>
<div class="b" style="left:1159px;top:555px;width:1px;height:77px;background:#d9d9d9;"></div>
<svg class="b" style="left:548.1px;top:565.5px;" width="14" height="31" viewBox="0 0 14 31"><path d="M7 0.200a6.200 6.200 0 0 1 6.200 6.200c0 3.800-6.200 9.200-6.200 9.200s-6.200-5.400-6.200-9.200a6.200 6.200 0 0 1 6.200-6.200z" fill="#4472a8"/>
<circle cx="7" cy="5.700" r="2.700" fill="#f5f5f5"/>
<path d="M7 16.300v9.700" stroke="#7f9cc4" stroke-width="1.400" stroke-dasharray="1.700 1"/>
<circle cx="7" cy="27.900" r="2.100" fill="#4472a8"/></svg>
<div class="t" style="left:534.98px;top:600.00px;font-size:10.5px;color:#808080;transform:scaleX(1.1107);">0.26 km</div>
<div class="t" style="left:587.21px;top:569.00px;font-size:15.5px;color:#283f62;transform:scaleX(0.9528);-webkit-text-stroke:0.3px #283f62;">HÔTEL PLAZA ETOILE</div>
<div class="t" style="left:587.81px;top:588.00px;font-size:13px;color:#54769f;transform:scaleX(0.9434);">21 Avenue De Wagram, 75017, Paris</div>
<div class="b" style="left:587.9px;top:601px;width:201.70000000000005px;height:1px;background:#cfd6e0;"></div>
<svg class="b" style="left:587.0px;top:607.3px;" width="58" height="13.5" viewBox="0 -0.3 58 13.5"><path transform="translate(0.00 0)" d="M6.2 0.3l1.85 3.9 4.25.55-3.1 2.95.8 4.25-3.8-2.1-3.8 2.1.8-4.25-3.1-2.95 4.25-.55z" fill="#f9b50b" stroke="#f9b50b" stroke-width="0.6" stroke-linejoin="round"/><path transform="translate(10.95 0)" d="M6.2 0.3l1.85 3.9 4.25.55-3.1 2.95.8 4.25-3.8-2.1-3.8 2.1.8-4.25-3.1-2.95 4.25-.55z" fill="#f9b50b" stroke="#f9b50b" stroke-width="0.6" stroke-linejoin="round"/><path transform="translate(21.90 0)" d="M6.2 0.3l1.85 3.9 4.25.55-3.1 2.95.8 4.25-3.8-2.1-3.8 2.1.8-4.25-3.1-2.95 4.25-.55z" fill="#f9b50b" stroke="#f9b50b" stroke-width="0.6" stroke-linejoin="round"/><path transform="translate(32.85 0)" d="M6.2 0.3l1.85 3.9 4.25.55-3.1 2.95.8 4.25-3.8-2.1-3.8 2.1.8-4.25-3.1-2.95 4.25-.55z" fill="#b9b9b9" stroke="#b9b9b9" stroke-width="0.6" stroke-linejoin="round"/><path transform="translate(43.80 0)" d="M6.2 0.3l1.85 3.9 4.25.55-3.1 2.95.8 4.25-3.8-2.1-3.8 2.1.8-4.25-3.1-2.95 4.25-.55z" fill="#b9b9b9" stroke="#b9b9b9" stroke-width="0.6" stroke-linejoin="round"/></svg>
<div class="t" style="left:1095.18px;top:568.00px;font-size:15.5px;color:#7a7a7a;transform:scaleX(1.0326);font-weight:bold;letter-spacing:1.3px;">986.29</div>
<div class="t" style="left:1064.98px;top:584.00px;font-size:13px;color:#868686;transform:scaleX(1.0234);">EUR / 5 nights</div>
<div class="b" style="left:1170px;top:578px;width:150px;height:33px;background:#4472a8;border-radius:4px;"></div>
<div class="t" style="left:1180.48px;top:588.00px;font-size:14px;color:#ffffff;transform:scaleX(0.8591);font-weight:bold;-webkit-text-stroke:0.3px #ffffff;">SEE AVAILABILITY</div>
<svg class="b" style="left:1293px;top:586px;" width="17" height="17" viewBox="0 0 17 17"><path d="M1 8.500h13M8.200 1.700l6.800 6.800-6.800 6.800" fill="none" stroke="#fff" stroke-width="3.200"/></svg>
<div class="b" style="left:532px;top:632px;width:798px;height:1px;background:#d9d9d9;"></div>
<div class="b" style="left:576px;top:632px;width:1px;height:94px;background:#d9d9d9;"></div>
<div class="b" style="left:1159px;top:632px;width:1px;height:94px;background:#d9d9d9;"></div>
<svg class="b" style="left:547.0px;top:642.5px;" width="14" height="31" viewBox="0 0 14 31"><path d="M7 0.200a6.200 6.200 0 0 1 6.200 6.200c0 3.800-6.200 9.200-6.200 9.200s-6.200-5.400-6.200-9.200a6.200 6.200 0 0 1 6.200-6.200z" fill="#4472a8"/>
<circle cx="7" cy="5.700" r="2.700" fill="#f5f5f5"/>
<path d="M7 16.300v9.700" stroke="#7f9cc4" stroke-width="1.400" stroke-dasharray="1.700 1"/>
<circle cx="7" cy="27.900" r="2.100" fill="#4472a8"/></svg>
<div class="t" style="left:533.18px;top:677.00px;font-size:10.5px;color:#808080;transform:scaleX(1.1326);">0.26 km</div>
<div class="t" style="left:584.71px;top:646.00px;font-size:15.5px;color:#283f62;transform:scaleX(0.9518);-webkit-text-stroke:0.3px #283f62;">MERCURE PARIS ARC DE TRIOMPHE</div>
<div class="t" style="left:585.90px;top:663.00px;font-size:15.5px;color:#283f62;transform:scaleX(0.9680);-webkit-text-stroke:0.3px #283f62;">WAGRAM</div>
<div class="t" style="left:585.47px;top:682.00px;font-size:13px;color:#54769f;transform:scaleX(0.8523);">3 RUE BREY</div>
<div class="b" style="left:585.4px;top:695px;width:66.20000000000005px;height:1px;background:#cfd6e0;"></div>
<svg class="b" style="left:584.4px;top:700.9999999999999px;" width="58" height="13.5" viewBox="0 -0.3 58 13.5"><path transform="translate(0.00 0)" d="M6.2 0.3l1.85 3.9 4.25.55-3.1 2.95.8 4.25-3.8-2.1-3.8 2.1.8-4.25-3.1-2.95 4.25-.55z" fill="#f9b50b" stroke="#f9b50b" stroke-width="0.6" stroke-linejoin="round"/><path transform="translate(10.95 0)" d="M6.2 0.3l1.85 3.9 4.25.55-3.1 2.95.8 4.25-3.8-2.1-3.8 2.1.8-4.25-3.1-2.95 4.25-.55z" fill="#f9b50b" stroke="#f9b50b" stroke-width="0.6" stroke-linejoin="round"/><path transform="translate(21.90 0)" d="M6.2 0.3l1.85 3.9 4.25.55-3.1 2.95.8 4.25-3.8-2.1-3.8 2.1.8-4.25-3.1-2.95 4.25-.55z" fill="#f9b50b" stroke="#f9b50b" stroke-width="0.6" stroke-linejoin="round"/><path transform="translate(32.85 0)" d="M6.2 0.3l1.85 3.9 4.25.55-3.1 2.95.8 4.25-3.8-2.1-3.8 2.1.8-4.25-3.1-2.95 4.25-.55z" fill="#f9b50b" stroke="#f9b50b" stroke-width="0.6" stroke-linejoin="round"/><path transform="translate(43.80 0)" d="M6.2 0.3l1.85 3.9 4.25.55-3.1 2.95.8 4.25-3.8-2.1-3.8 2.1.8-4.25-3.1-2.95 4.25-.55z" fill="#b9b9b9" stroke="#b9b9b9" stroke-width="0.6" stroke-linejoin="round"/></svg>
<div class="t" style="left:1080.28px;top:645.00px;font-size:15.5px;color:#7a7a7a;transform:scaleX(1.0169);font-weight:bold;letter-spacing:1.3px;">1,236.82</div>
<div class="t" style="left:1064.98px;top:661.00px;font-size:13px;color:#868686;transform:scaleX(1.0234);">EUR / 5 nights</div>
<div class="b" style="left:1170px;top:663px;width:150px;height:33px;background:#4472a8;border-radius:4px;"></div>
<div class="t" style="left:1180.48px;top:673.00px;font-size:14px;color:#ffffff;transform:scaleX(0.8591);font-weight:bold;-webkit-text-stroke:0.3px #ffffff;">SEE AVAILABILITY</div>
<svg class="b" style="left:1293px;top:671px;" width="17" height="17" viewBox="0 0 17 17"><path d="M1 8.500h13M8.200 1.700l6.800 6.800-6.800 6.800" fill="none" stroke="#fff" stroke-width="3.200"/></svg>
<div class="b" style="left:532px;top:726px;width:798px;height:1px;background:#d9d9d9;"></div>
<div class="b" style="left:579px;top:726px;width:1px;height:77px;background:#d9d9d9;"></div>
<div class="b" style="left:1159px;top:726px;width:1px;height:77px;background:#d9d9d9;"></div>
<svg class="b" style="left:548.1px;top:736.6px;" width="14" height="31" viewBox="0 0 14 31"><path d="M7 0.200a6.200 6.200 0 0 1 6.200 6.200c0 3.800-6.200 9.200-6.200 9.200s-6.200-5.400-6.200-9.200a6.200 6.200 0 0 1 6.200-6.200z" fill="#4472a8"/>
<circle cx="7" cy="5.700" r="2.700" fill="#f5f5f5"/>
<path d="M7 16.300v9.700" stroke="#7f9cc4" stroke-width="1.400" stroke-dasharray="1.700 1"/>
<circle cx="7" cy="27.900" r="2.100" fill="#4472a8"/></svg>
<div class="t" style="left:534.98px;top:771.00px;font-size:10.5px;color:#808080;transform:scaleX(1.1107);">0.27 km</div>
<div class="t" style="left:587.20px;top:740.00px;font-size:15.5px;color:#283f62;transform:scaleX(0.9567);-webkit-text-stroke:0.3px #283f62;">ELYSéES PARIS</div>
<div class="t" style="left:587.45px;top:759.00px;font-size:13px;color:#54769f;transform:scaleX(0.9485);">1 Rue Brey, 75017, Paris</div>
<div class="b" style="left:587.9px;top:772px;width:136.39999999999998px;height:1px;background:#cfd6e0;"></div>
<svg class="b" style="left:587.0px;top:778.4px;" width="58" height="13.5" viewBox="0 -0.3 58 13.5"><path transform="translate(0.00 0)" d="M6.2 0.3l1.85 3.9 4.25.55-3.1 2.95.8 4.25-3.8-2.1-3.8 2.1.8-4.25-3.1-2.95 4.25-.55z" fill="#f9b50b" stroke="#f9b50b" stroke-width="0.6" stroke-linejoin="round"/><path transform="translate(10.95 0)" d="M6.2 0.3l1.85 3.9 4.25.55-3.1 2.95.8 4.25-3.8-2.1-3.8 2.1.8-4.25-3.1-2.95 4.25-.55z" fill="#b9b9b9" stroke="#b9b9b9" stroke-width="0.6" stroke-linejoin="round"/><path transform="translate(21.90 0)" d="M6.2 0.3l1.85 3.9 4.25.55-3.1 2.95.8 4.25-3.8-2.1-3.8 2.1.8-4.25-3.1-2.95 4.25-.55z" fill="#b9b9b9" stroke="#b9b9b9" stroke-width="0.6" stroke-linejoin="round"/><path transform="translate(32.85 0)" d="M6.2 0.3l1.85 3.9 4.25.55-3.1 2.95.8 4.25-3.8-2.1-3.8 2.1.8-4.25-3.1-2.95 4.25-.55z" fill="#b9b9b9" stroke="#b9b9b9" stroke-width="0.6" stroke-linejoin="round"/><path transform="translate(43.80 0)" d="M6.2 0.3l1.85 3.9 4.25.55-3.1 2.95.8 4.25-3.8-2.1-3.8 2.1.8-4.25-3.1-2.95 4.25-.55z" fill="#b9b9b9" stroke="#b9b9b9" stroke-width="0.6" stroke-linejoin="round"/></svg>
<div class="t" style="left:1080.28px;top:739.00px;font-size:15.5px;color:#7a7a7a;transform:scaleX(1.0151);font-weight:bold;letter-spacing:1.3px;">1,151.63</div>
<div class="t" style="left:1064.98px;top:755.00px;font-size:13px;color:#868686;transform:scaleX(1.0234);">EUR / 5 nights</div>
<div class="b" style="left:1170px;top:749px;width:150px;height:33px;background:#4472a8;border-radius:4px;"></div>
<div class="t" style="left:1180.48px;top:759.00px;font-size:14px;color:#ffffff;transform:scaleX(0.8591);font-weight:bold;-webkit-text-stroke:0.3px #ffffff;">SEE AVAILABILITY</div>
<svg class="b" style="left:1293px;top:757px;" width="17" height="17" viewBox="0 0 17 17"><path d="M1 8.500h13M8.200 1.700l6.800 6.800-6.800 6.800" fill="none" stroke="#fff" stroke-width="3.200"/></svg>
<div class="b" style="left:532px;top:803px;width:798px;height:1px;background:#d9d9d9;"></div>
<div class="b" style="left:579px;top:803px;width:1px;height:77px;background:#d9d9d9;"></div>
<div class="b" style="left:1159px;top:803px;width:1px;height:77px;background:#d9d9d9;"></div>
<svg class="b" style="left:548.1px;top:813.6px;" width="14" height="31" viewBox="0 0 14 31"><path d="M7 0.200a6.200 6.200 0 0 1 6.200 6.200c0 3.800-6.200 9.200-6.200 9.200s-6.200-5.400-6.200-9.200a6.200 6.200 0 0 1 6.200-6.200z" fill="#4472a8"/>
<circle cx="7" cy="5.700" r="2.700" fill="#f5f5f5"/>
<path d="M7 16.300v9.700" stroke="#7f9cc4" stroke-width="1.400" stroke-dasharray="1.700 1"/>
<circle cx="7" cy="27.900" r="2.100" fill="#4472a8"/></svg>
<div class="t" style="left:534.98px;top:848.00px;font-size:10.5px;color:#808080;transform:scaleX(1.1107);">0.27 km</div>
<div class="t" style="left:587.23px;top:817.00px;font-size:15.5px;color:#283f62;transform:scaleX(0.9393);-webkit-text-stroke:0.3px #283f62;">HOTEL TIVOLI ETOILE</div>
<div class="t" style="left:588.40px;top:836.00px;font-size:13px;color:#54769f;transform:scaleX(1.1931);">Avenue</div>
<div class="b" style="left:587.9px;top:849px;width:52.60000000000002px;height:1px;background:#cfd6e0;"></div>
<svg class="b" style="left:587.0px;top:855.4px;" width="58" height="13.5" viewBox="0 -0.3 58 13.5"><path transform="translate(0.00 0)" d="M6.2 0.3l1.85 3.9 4.25.55-3.1 2.95.8 4.25-3.8-2.1-3.8 2.1.8-4.25-3.1-2.95 4.25-.55z" fill="#f9b50b" stroke="#f9b50b" stroke-width="0.6" stroke-linejoin="round"/><path transform="translate(10.95 0)" d="M6.2 0.3l1.85 3.9 4.25.55-3.1 2.95.8 4.25-3.8-2.1-3.8 2.1.8-4.25-3.1-2.95 4.25-.55z" fill="#f9b50b" stroke="#f9b50b" stroke-width="0.6" stroke-linejoin="round"/><path transform="translate(21.90 0)" d="M6.2 0.3l1.85 3.9 4.25.55-3.1 2.95.8 4.25-3.8-2.1-3.8 2.1.8-4.25-3.1-2.95 4.25-.55z" fill="#f9b50b" stroke="#f9b50b" stroke-width="0.6" stroke-linejoin="round"/><path transform="translate(32.85 0)" d="M6.2 0.3l1.85 3.9 4.25.55-3.1 2.95.8 4.25-3.8-2.1-3.8 2.1.8-4.25-3.1-2.95 4.25-.55z" fill="#b9b9b9" stroke="#b9b9b9" stroke-width="0.6" stroke-linejoin="round"/><path transform="translate(43.80 0)" d="M6.2 0.3l1.85 3.9 4.25.55-3.1 2.95.8 4.25-3.8-2.1-3.8 2.1.8-4.25-3.1-2.95 4.25-.55z" fill="#b9b9b9" stroke="#b9b9b9" stroke-width="0.6" stroke-linejoin="round"/></svg>
<div class="t" style="left:1105.79px;top:816.00px;font-size:15.5px;color:#7a7a7a;transform:scaleX(1.0215);font-weight:bold;letter-spacing:1.3px;">884.1</div>
<div class="t" style="left:1064.98px;top:832.00px;font-size:13px;color:#868686;transform:scaleX(1.0234);">EUR / 5 nights</div>
<div class="b" style="left:1170px;top:826px;width:150px;height:33px;background:#4472a8;border-radius:4px;"></div>
<div class="t" style="left:1180.48px;top:836.00px;font-size:14px;color:#ffffff;transform:scaleX(0.8591);font-weight:bold;-webkit-text-stroke:0.3px #ffffff;">SEE AVAILABILITY</div>
<svg class="b" style="left:1293px;top:834px;" width="17" height="17" viewBox="0 0 17 17"><path d="M1 8.500h13M8.200 1.700l6.800 6.800-6.800 6.800" fill="none" stroke="#fff" stroke-width="3.200"/></svg>
<div class="b" style="left:0px;top:101px;width:1px;height:731px;background:#1a1a1a;"></div>
<div class="b" style="left:0px;top:831px;width:1446px;height:1px;background:#1a1a1a;"></div>
<div class="b" style="left:1441px;top:0px;width:4px;height:832px;background:#ffffff;"></div>
<div class="b" style="left:1445px;top:0px;width:1px;height:832px;background:#1a1a1a;"></div>
<div class="b" style="left:1435px;top:0px;width:6px;height:67px;background:#2a8c9a;"></div>
<div class="b" style="left:1435px;top:67px;width:6px;height:471px;background:#6fc0c0;border-radius:0 0 3px 3px;"></div>
<div class="b" style="left:1440px;top:538px;width:1px;height:294px;background:#e2e2e2;"></div>
</div></body></html>
